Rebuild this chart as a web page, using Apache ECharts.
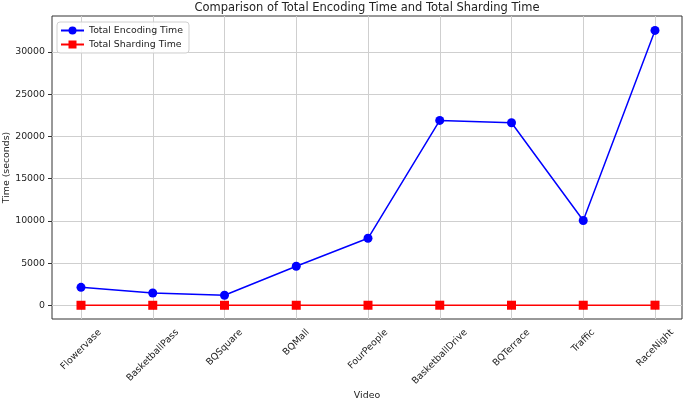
<!DOCTYPE html>
<html>
<head>
<meta charset="utf-8">
<script src="https://cdn.jsdelivr.net/npm/echarts@6/dist/echarts.min.js"></script>
<style>
  html, body { margin: 0; padding: 0; background: #fff; }
  #chart { width: 685px; height: 399px; }
</style>
</head>
<body>
<div id="chart"></div>
<script>
const videos = ['Flowervase', 'BasketballPass', 'BQSquare', 'BQMall', 'FourPeople', 'BasketballDrive', 'BQTerrace', 'Traffic', 'RaceNight']
const encodingTime = [2130, 1460, 1190, 4620, 7940, 21900, 21620, 10050, 32550]
const shardingTime = [6, 5, 4, 7, 9, 14, 12, 10, 16]
const yTicks = [0, 5000, 10000, 15000, 20000, 25000, 30000]

const FONT = 'DejaVu Sans'
const fs = 9.4
const textColor = '#222'

// rotated x labels: matplotlib centres the rotated box under the tick,
// so pad each label (right + top) by its own width
const ctx = document.createElement('canvas').getContext('2d')
ctx.font = fs + 'px "' + FONT + '"'
const widths = videos.map(v => ctx.measureText(v).width)
const lh = 11
const pad = 8
const rich = {}
widths.forEach((w, i) => {
  const p = Math.SQRT2 * pad + 0.5 * (w + lh)
  rich['v' + i] = {
    fontSize: fs, fontFamily: FONT, color: textColor, lineHeight: lh,
    padding: [p, p, 0, 0],
  }
})

const hidden = {
  axisLine: {show: false}, axisTick: {show: false},
  axisLabel: {show: false}, splitLine: {show: false},
}

const option = {
  animation: false,
  textStyle: {fontFamily: FONT},
  title: {
    text: 'Comparison of Total Encoding Time and Total Sharding Time',
    left: 367, top: 2, textAlign: 'center', textVerticalAlign: 'top', padding: 0,
    textStyle: {fontSize: 11.5, fontWeight: 'normal', color: textColor, fontFamily: FONT},
  },
  legend: {
    orient: 'vertical', left: 57, top: 22,
    padding: [4, 6, 4, 3], itemGap: 5, itemWidth: 23, itemHeight: 10,
    backgroundColor: 'rgba(255,255,255,0.85)', borderColor: '#d0d0d0', borderWidth: 1, borderRadius: 3,
    textStyle: {fontSize: fs, color: textColor, fontFamily: FONT},
    data: ['Total Encoding Time', 'Total Sharding Time'],
  },
  grid: [
    // frame
    {left: 52, right: 3, top: 16, bottom: 80, outerBoundsMode: 'none', containLabel: false,
      show: true, borderColor: '#333', borderWidth: 1, backgroundColor: 'transparent'},
    // y ticks and horizontal lines
    {left: 52, right: 3, top: 52, bottom: 93.7, outerBoundsMode: 'none', containLabel: false},
    // data, vertical lines and x labels
    {left: 81, right: 30, top: 16, bottom: 80, outerBoundsMode: 'none', containLabel: false},
  ],
  xAxis: [
    Object.assign({gridIndex: 0, type: 'category', data: videos, name: 'Video', nameLocation: 'middle', nameGap: 72,
      nameTextStyle: {fontSize: fs, color: textColor, fontFamily: FONT}}, hidden),
    Object.assign({gridIndex: 1, type: 'category', data: videos}, hidden),
    {
      gridIndex: 2, type: 'category', data: videos, boundaryGap: false,
      axisLine: {show: false},
      axisTick: {show: true, length: 4, lineStyle: {color: '#333'}},
      splitLine: {show: true, lineStyle: {color: '#cfcfcf', width: 1}},
      axisLabel: {
        interval: 0, rotate: 45, align: 'center', verticalAlign: 'middle', margin: 0,
        formatter: (val, idx) => '{v' + idx + '|' + val + '}',
        rich: rich,
      },
    },
  ],
  yAxis: [
    Object.assign({gridIndex: 0, type: 'value', min: 0, max: 1, name: 'Time (seconds)', nameLocation: 'middle', nameGap: 41,
      nameTextStyle: {fontSize: fs, color: textColor, fontFamily: FONT}}, hidden),
    {
      gridIndex: 1, type: 'value',
      min: yTicks[0], max: yTicks[yTicks.length - 1], interval: yTicks[1] - yTicks[0],
      axisLine: {show: false},
      axisTick: {show: true, length: 4, lineStyle: {color: '#333'}},
      axisLabel: {fontSize: fs, color: textColor, fontFamily: FONT, margin: 7, formatter: v => String(v)},
      splitLine: {show: true, lineStyle: {color: '#cfcfcf', width: 1}},
    },
    Object.assign({gridIndex: 2, type: 'value', min: -1620, max: 34260}, hidden),
  ],
  series: [
    {
      name: 'Total Encoding Time', type: 'line', xAxisIndex: 2, yAxisIndex: 2,
      data: encodingTime, symbol: 'circle', symbolSize: 9,
      itemStyle: {color: '#0000ff'}, lineStyle: {color: '#0000ff', width: 1.5},
    },
    {
      name: 'Total Sharding Time', type: 'line', xAxisIndex: 2, yAxisIndex: 2,
      data: shardingTime, symbol: 'rect', symbolSize: 9,
      itemStyle: {color: '#ff0000'}, lineStyle: {color: '#ff0000', width: 1.5},
    },
  ],
}

const chartInstance = echarts.init(document.getElementById('chart'))
chartInstance.setOption(option)
</script>
</body>
</html>
